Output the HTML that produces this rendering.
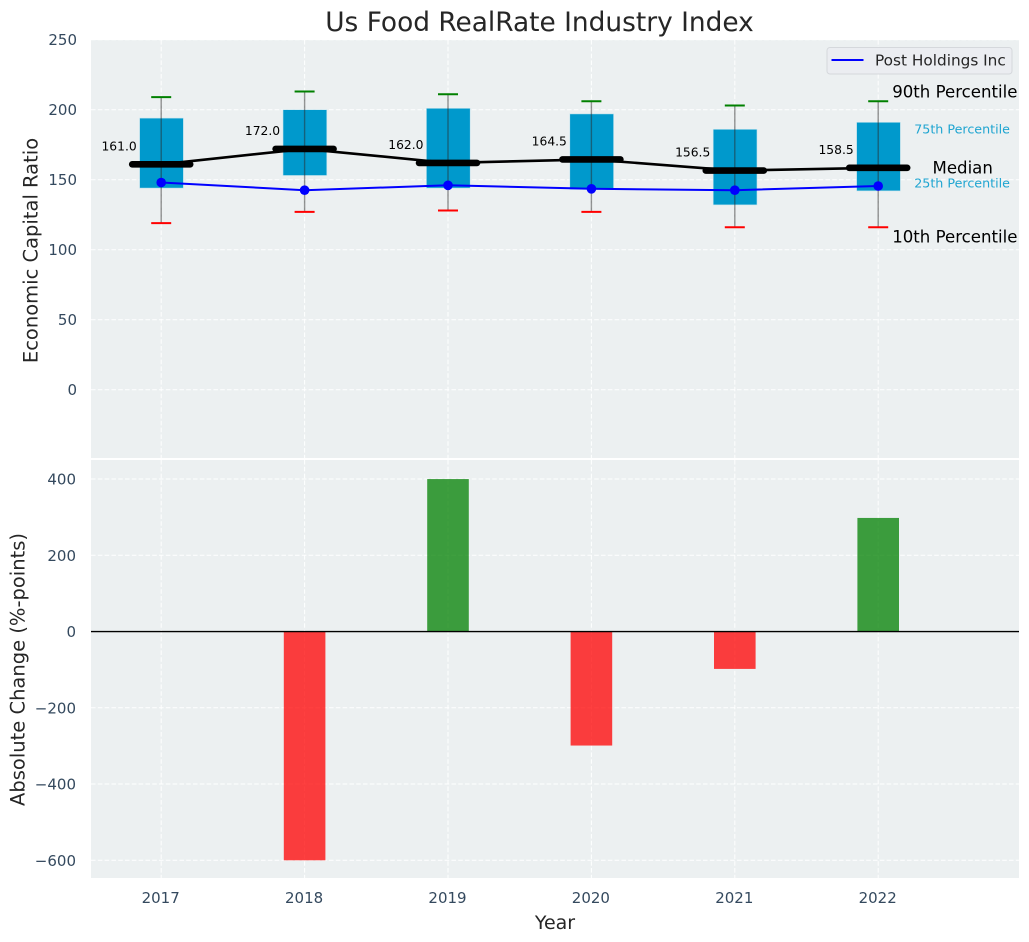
<!DOCTYPE html>
<html lang="en">
<head>
<meta charset="utf-8">
<title>Us Food RealRate Industry Index</title>
<style>
html,body{margin:0;padding:0;background:#fff;width:1029px;height:942px;overflow:hidden}
svg{display:block;font-family:"DejaVu Sans","Liberation Sans",sans-serif}
</style>
</head>
<body>
<svg id="chart" xmlns="http://www.w3.org/2000/svg" width="1029" height="942" viewBox="0 0 1029 942">
  <rect x="91" y="40" width="928" height="418" fill="#ecf0f1"/>
  <rect x="91" y="460" width="928" height="418" fill="#ecf0f1"/>
  <g id="grid"></g>
  <g id="boxes"></g>
  <g id="bars"></g>
  <g id="labels"></g>
  <text x="539.5" y="31" font-size="26.4" fill="#262626" text-anchor="middle">Us Food RealRate Industry Index</text>
  <text transform="translate(37.5 250.5) rotate(-90)" font-size="19.5" fill="#262626" text-anchor="middle">Economic Capital Ratio</text>
  <text transform="translate(24.5 669.5) rotate(-90)" font-size="19.5" fill="#262626" text-anchor="middle">Absolute Change (%-points)</text>
  <text x="555" y="929" font-size="19" fill="#262626" text-anchor="middle">Year</text>
  <g>
    <rect x="827" y="47.5" width="185" height="26.5" rx="3" fill="#ebedf1" stroke="#d5d8dc"/>
    <line x1="831.5" x2="863.5" y1="60" y2="60" stroke="#0000ff" stroke-width="2"/>
    <text x="875" y="65.5" font-size="15.3" fill="#262626">Post Holdings Inc</text>
  </g>
</svg>
<script>
const years = [2017, 2018, 2019, 2020, 2021, 2022];
const p90 = [209, 213, 211, 206, 203, 206];
const p75 = [194, 200, 201, 197, 186, 191];
const medians = [161.0, 172.0, 162.0, 164.5, 156.5, 158.5];
const p25 = [144, 153, 144, 143, 132, 142];
const p10 = [119, 127, 128, 127, 116, 116];
const company = [148, 142.5, 146, 143.5, 142.5, 145.5];
const changes = [0, -600, 400, -299, -98, 298];
const upperTicks = [0, 50, 100, 150, 200, 250];
const lowerTicks = [-600, -400, -200, 0, 200, 400];

const NS = 'http://www.w3.org/2000/svg';
const xScale = function (year) { return 161.2 + (year - 2017) * 143.4; };
const yUpper = function (v) { return 389.7 - v * 1.4; };
const yLower = function (v) { return 631.55 - v * 0.38125; };
const gridG = document.getElementById('grid');
const boxG = document.getElementById('boxes');
const barG = document.getElementById('bars');
const labelG = document.getElementById('labels');

function make(parent, tag, attrs, text) {
  const el = document.createElementNS(NS, tag);
  for (const k in attrs) { el.setAttribute(k, attrs[k]); }
  if (text !== undefined) { el.textContent = text; }
  parent.appendChild(el);
  return el;
}
function fmtTick(v) { return String(v).replace('-', '\u2212'); }

const gridStyle = { stroke: '#ffffff', 'stroke-opacity': 0.95, 'stroke-width': 1, 'stroke-dasharray': '4.6 2.2', fill: 'none' };

upperTicks.forEach(function (t) {
  const grid = make(gridG, 'line', Object.assign({ x1: 91, x2: 1019, y1: yUpper(t), y2: yUpper(t) }, gridStyle));
  
  
  const label = make(labelG, 'text', { x: 77, y: yUpper(t) + 5.5, 'font-size': 15, fill: '#34495e', 'text-anchor': 'end' }, fmtTick(t));
  
  
});

lowerTicks.forEach(function (t) {
  const grid = make(gridG, 'line', Object.assign({ x1: 91, x2: 1019, y1: yLower(t), y2: yLower(t) }, gridStyle));
  
  
  const label = make(labelG, 'text', { x: 76, y: yLower(t) + 5.5, 'font-size': 15, fill: '#34495e', 'text-anchor': 'end' }, fmtTick(t));
  
  
});

years.forEach(function (year) {
  const px = xScale(year);
  const g1 = make(gridG, 'line', Object.assign({ x1: px, x2: px, y1: 40, y2: 458 }, gridStyle));
  
  
  const g2 = make(gridG, 'line', Object.assign({ x1: px, x2: px, y1: 460, y2: 878 }, gridStyle));
  
  
  const label = make(labelG, 'text', { x: px - 0.5, y: 903, 'font-size': 15, fill: '#34495e', 'text-anchor': 'middle' }, String(year));
  
  
});

years.forEach(function (year, i) {
  const px = xScale(year);
  const box = make(boxG, 'rect', { x: px - 21.6, y: yUpper(p75[i]), width: 43.8, height: yUpper(p25[i]) - yUpper(p75[i]), fill: '#0099cc', stroke: '#c5e4ee', 'stroke-width': 0.6 });
  
  
  const whisker = make(boxG, 'line', { x1: px, x2: px, y1: yUpper(p90[i]), y2: yUpper(p10[i]), stroke: '#2a2a2a', 'stroke-opacity': 0.5, 'stroke-width': 1.4 });
  
  
  const capHigh = make(boxG, 'line', { x1: px - 10, x2: px + 10, y1: yUpper(p90[i]), y2: yUpper(p90[i]), stroke: '#008000', 'stroke-width': 2 });
  
  
  const capLow = make(boxG, 'line', { x1: px - 10, x2: px + 10, y1: yUpper(p10[i]), y2: yUpper(p10[i]), stroke: '#ff0000', 'stroke-width': 2 });
  
  
});

const medianLine = make(boxG, 'polyline', { points: years.map(function (y, i) { return xScale(y) + ',' + yUpper(medians[i]); }).join(' '), fill: 'none', stroke: '#000000', 'stroke-width': 2.6 });



years.forEach(function (year, i) {
  const px = xScale(year);
  const tick = make(boxG, 'line', { x1: px - 29, x2: px + 29, y1: yUpper(medians[i]), y2: yUpper(medians[i]), stroke: '#000000', 'stroke-width': 6.6, 'stroke-linecap': 'round' });
  
  
  const label = make(boxG, 'text', { x: px - 24.5, y: yUpper(medians[i]) - 14, 'font-size': 12.3, fill: '#000000', 'text-anchor': 'end' }, medians[i].toFixed(1));
  
  
});

const companyLine = make(boxG, 'polyline', { points: years.map(function (y, i) { return xScale(y) + ',' + yUpper(company[i]); }).join(' '), fill: 'none', stroke: '#0000ff', 'stroke-width': 2 });



years.forEach(function (year, i) {
  const dot = make(boxG, 'circle', { cx: xScale(year), cy: yUpper(company[i]), r: 4.8, fill: '#0000ff' });
  
  
});

const last = years.length - 1;
const lastX = xScale(years[last]);
const a90 = make(boxG, 'text', { x: lastX + 14, y: yUpper(p90[last]) - 3.6, 'font-size': 16.6, fill: '#000000' }, '90th Percentile');


const a75 = make(boxG, 'text', { x: lastX + 36, y: yUpper(p75[last]) + 11.2, 'font-size': 12.7, fill: '#1fa5d1' }, '75th Percentile');


const aMed = make(boxG, 'text', { x: lastX + 84.5, y: yUpper(medians[last]) + 5.5, 'font-size': 16.6, fill: '#000000', 'text-anchor': 'middle' }, 'Median');


const a25 = make(boxG, 'text', { x: lastX + 36, y: yUpper(p25[last]) - 3.2, 'font-size': 12.7, fill: '#1fa5d1' }, '25th Percentile');


const a10 = make(boxG, 'text', { x: lastX + 14, y: yUpper(p10[last]) + 15.2, 'font-size': 16.6, fill: '#000000' }, '10th Percentile');



years.forEach(function (year, i) {
  const v = changes[i];
  if (v === 0) { return; }
  const px = xScale(year);
  const top = Math.min(yLower(0), yLower(v));
  const bar = make(barG, 'rect', { x: px - 20.8, y: top, width: 41.6, height: Math.abs(yLower(v) - yLower(0)), fill: v > 0 ? '#008000' : '#ff0000', 'fill-opacity': 0.75 });
  
  
});

const zero = make(barG, 'line', { x1: 91, x2: 1019, y1: yLower(0), y2: yLower(0), stroke: '#000000', 'stroke-width': 1.3 });


</script>
</body>
</html>
